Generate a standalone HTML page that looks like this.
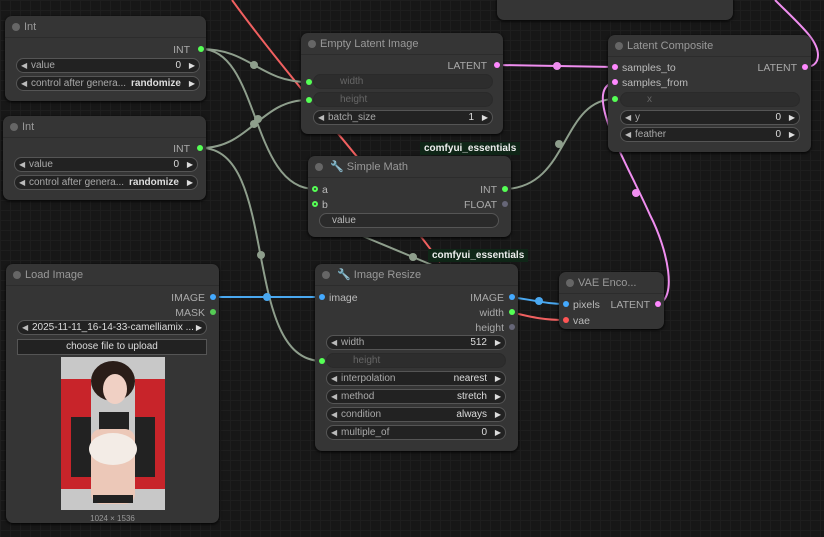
<!DOCTYPE html>
<html><head><meta charset="utf-8"><style>
*{box-sizing:border-box;margin:0;padding:0}
body{width:824px;height:537px;overflow:hidden;position:relative;background:#171717;
background-image:linear-gradient(#1e1e1e 1px,transparent 1px),linear-gradient(90deg,#1e1e1e 1px,transparent 1px);background-size:10px 10px;
font-family:"Liberation Sans",sans-serif;font-size:10.5px;color:#aaa}
.n{position:absolute;background:#353535;border-radius:7px;box-shadow:0 1px 3px #000}
.t{height:22px;border-bottom:1px solid #2c2c2c;padding-left:19px;line-height:22px;font-size:11px;color:#999;position:relative}
.t:before{content:"";position:absolute;left:7px;top:7px;width:8px;height:8px;border-radius:50%;background:#666}
.a{position:absolute;line-height:12px;white-space:nowrap;margin-top:1px}
.d{position:absolute;width:6px;height:6px;border-radius:50%}
.w{position:absolute;height:15px;border:1px solid #555;border-radius:8px;background:#222;line-height:14px;font-size:10px;color:#aaa;padding:0 8px 0 14px;white-space:nowrap}
.w:before{content:"◀";position:absolute;left:4px;font-size:8px;color:#bbb}
.w:after{content:"▶";position:absolute;right:4px;font-size:8px;color:#ddd}
.w b{position:absolute;right:18px;color:#ddd;font-weight:normal}
.w.off{border-color:#2a2a2a;background:#2d2d2d;color:#666;padding-left:26px}
.w.off:before,.w.off:after,.w.plain:before,.w.plain:after{content:none}
.badge{position:absolute;background:#0f2617;color:#eee;font-size:10px;font-weight:bold;padding:1px 4px;height:13px;line-height:11px}
</style></head><body>
<svg width="824" height="537" style="position:absolute;left:0;top:0">
<g fill="none" stroke-width="2">
<path d="M232,0 C290,80 380,180 440,262" stroke="#f06060"/>
<path d="M510,312 C535,318 545,320 565,320" stroke="#f06060"/>
<path d="M201,49 C250,49 260,82 308,82" stroke="#8e9e8c"/>
<path d="M201,49 C260,49 250,189 315,189" stroke="#8e9e8c"/>
<path d="M201,148 C250,148 260,100 308,100" stroke="#8e9e8c"/>
<path d="M201,148 C280,148 240,361 322,361" stroke="#8e9e8c"/>
<path d="M503,189 C570,189 560,99 615,99" stroke="#8e9e8c"/>
<path d="M360,235 L432,265" stroke="#8e9e8c"/>
<path d="M212,297 L322,297" stroke="#4aa8f0"/>
<path d="M510,297 C535,300 545,304 566,304" stroke="#4aa8f0"/>
<path d="M497,65 L615,67" stroke="#f08ef0"/>
<path d="M657,304 C678,300 668,250 650,215 C630,170 600,120 603,95 C604,86 610,83 615,82" stroke="#f08ef0"/>
<path d="M775,0 C800,25 818,40 818,55 C818,64 812,67 805,67" stroke="#f08ef0"/>
</g>
<g>
<circle cx="254" cy="65" r="4" fill="#8e9e8c"/><circle cx="258" cy="119" r="4" fill="#8e9e8c"/><circle cx="254" cy="124" r="4" fill="#8e9e8c"/>
<circle cx="261" cy="255" r="4" fill="#8e9e8c"/><circle cx="559" cy="144" r="4" fill="#8e9e8c"/><circle cx="413" cy="257" r="4" fill="#8e9e8c"/>
<circle cx="267" cy="297" r="4" fill="#4aa8f0"/><circle cx="539" cy="301" r="4" fill="#4aa8f0"/>
<circle cx="557" cy="66" r="4" fill="#f08ef0"/><circle cx="636" cy="193" r="4" fill="#f08ef0"/>
</g></svg>

<div class="n" style="left:497px;top:-10px;width:236px;height:30px"></div>

<div class="n" style="left:5px;top:16px;width:201px;height:85px"><div class="t">Int</div>
<div class="a" style="right:16px;top:27px">INT</div><div class="d" style="right:2px;top:30px;background:#5f5"></div>
<div class="w" style="left:11px;top:42px;width:184px">value<b>0</b></div>
<div class="w" style="left:11px;top:60px;width:184px">control after genera... <b style="font-weight:bold">randomize</b></div></div>

<div class="n" style="left:3px;top:116px;width:203px;height:84px"><div class="t">Int</div>
<div class="a" style="right:16px;top:26px">INT</div><div class="d" style="right:3px;top:29px;background:#5f5"></div>
<div class="w" style="left:11px;top:41px;width:184px">value<b>0</b></div>
<div class="w" style="left:11px;top:59px;width:184px">control after genera... <b style="font-weight:bold">randomize</b></div></div>

<div class="n" style="left:301px;top:33px;width:202px;height:101px"><div class="t">Empty Latent Image</div>
<div class="a" style="right:16px;top:26px">LATENT</div><div class="d" style="right:3px;top:29px;background:#f8f"></div>
<div class="d" style="left:5px;top:46px;background:#5f5"></div><div class="w off" style="left:12px;top:41px;width:180px">width</div>
<div class="d" style="left:5px;top:64px;background:#5f5"></div><div class="w off" style="left:12px;top:59px;width:180px">height</div>
<div class="w" style="left:12px;top:77px;width:180px">batch_size<b>1</b></div></div>

<div class="badge" style="left:420px;top:142px">comfyui_essentials</div>
<div class="n" style="left:308px;top:156px;width:203px;height:81px"><div class="t">&nbsp;🔧 Simple Math</div>
<div class="d" style="left:4px;top:30px;border:2px solid #5f5"></div><div class="a" style="left:14px;top:27px;color:#bbb">a</div>
<div class="d" style="left:4px;top:45px;border:2px solid #5f5"></div><div class="a" style="left:14px;top:42px;color:#bbb">b</div>
<div class="a" style="right:14px;top:27px">INT</div><div class="d" style="right:3px;top:30px;background:#5f5"></div>
<div class="a" style="right:14px;top:42px">FLOAT</div><div class="d" style="right:3px;top:45px;background:#667"></div>
<div class="w plain" style="left:11px;top:57px;width:180px;padding-left:12px;color:#bbb;background:#2a2a2a">value</div></div>

<div class="n" style="left:608px;top:35px;width:203px;height:117px"><div class="t">Latent Composite</div>
<div class="d" style="left:4px;top:29px;background:#f8f"></div><div class="a" style="left:14px;top:26px;color:#bbb">samples_to</div>
<div class="d" style="left:4px;top:44px;background:#f8f"></div><div class="a" style="left:14px;top:41px;color:#bbb">samples_from</div>
<div class="a" style="right:14px;top:26px">LATENT</div><div class="d" style="right:3px;top:29px;background:#f8f"></div>
<div class="d" style="left:4px;top:61px;background:#5f5"></div><div class="w off" style="left:12px;top:57px;width:180px">x</div>
<div class="w" style="left:12px;top:75px;width:180px">y<b>0</b></div>
<div class="w" style="left:12px;top:92px;width:180px">feather<b>0</b></div></div>

<div class="n" style="left:6px;top:264px;width:213px;height:259px"><div class="t">Load Image</div>
<div class="a" style="right:14px;top:27px">IMAGE</div><div class="d" style="right:3px;top:30px;background:#4af"></div>
<div class="a" style="right:14px;top:42px">MASK</div><div class="d" style="right:3px;top:45px;background:#5c5"></div>
<div class="w" style="left:11px;top:56px;width:190px;color:#ddd">2025-11-11_16-14-33-camelliamix ...</div>
<div style="position:absolute;left:11px;top:75px;width:190px;height:16px;border:1px solid #555;background:#222;color:#ddd;text-align:center;line-height:14px;font-size:10px">choose file to upload</div>
<svg style="position:absolute;left:55px;top:93px" width="104" height="153">
<rect width="104" height="153" fill="#c8c8c8"/>
<rect x="0" y="22" width="30" height="110" fill="#c8242a"/><rect x="74" y="22" width="30" height="110" fill="#c8242a"/>
<rect x="10" y="60" width="20" height="60" fill="#222"/><rect x="74" y="60" width="20" height="60" fill="#222"/>
<ellipse cx="52" cy="24" rx="22" ry="20" fill="#2a1d18"/><ellipse cx="54" cy="32" rx="12" ry="15" fill="#f0d0c4"/>
<rect x="38" y="55" width="30" height="18" fill="#222"/>
<rect x="30" y="72" width="44" height="75" rx="10" fill="#ecc8b8"/>
<ellipse cx="52" cy="92" rx="24" ry="16" fill="#f3ece6"/><rect x="32" y="138" width="40" height="8" fill="#222"/>
</svg>
<div class="a" style="left:0;width:213px;text-align:center;top:248px;font-size:8px;color:#999">1024 × 1536</div></div>

<div class="badge" style="left:428px;top:249px">comfyui_essentials</div>
<div class="n" style="left:315px;top:264px;width:203px;height:187px"><div class="t">&nbsp;🔧 Image Resize</div>
<div class="d" style="left:4px;top:30px;background:#4af"></div><div class="a" style="left:14px;top:27px;color:#bbb">image</div>
<div class="a" style="right:14px;top:27px">IMAGE</div><div class="d" style="right:3px;top:30px;background:#4af"></div>
<div class="a" style="right:14px;top:42px">width</div><div class="d" style="right:3px;top:45px;background:#5f5"></div>
<div class="a" style="right:14px;top:57px">height</div><div class="d" style="right:3px;top:60px;background:#667"></div>
<div class="w" style="left:11px;top:71px;width:180px">width<b>512</b></div>
<div class="d" style="left:4px;top:94px;background:#5f5"></div><div class="w off" style="left:11px;top:89px;width:180px">height</div>
<div class="w" style="left:11px;top:107px;width:180px">interpolation<b>nearest</b></div>
<div class="w" style="left:11px;top:125px;width:180px">method<b>stretch</b></div>
<div class="w" style="left:11px;top:143px;width:180px">condition<b>always</b></div>
<div class="w" style="left:11px;top:161px;width:180px">multiple_of<b>0</b></div></div>

<div class="n" style="left:559px;top:272px;width:105px;height:57px"><div class="t">VAE Enco...</div>
<div class="d" style="left:4px;top:29px;background:#4af"></div><div class="a" style="left:14px;top:26px;color:#bbb">pixels</div>
<div class="d" style="left:4px;top:45px;background:#f55"></div><div class="a" style="left:14px;top:42px;color:#bbb">vae</div>
<div class="a" style="right:14px;top:26px">LATENT</div><div class="d" style="right:3px;top:29px;background:#f8f"></div></div>
</body></html>
